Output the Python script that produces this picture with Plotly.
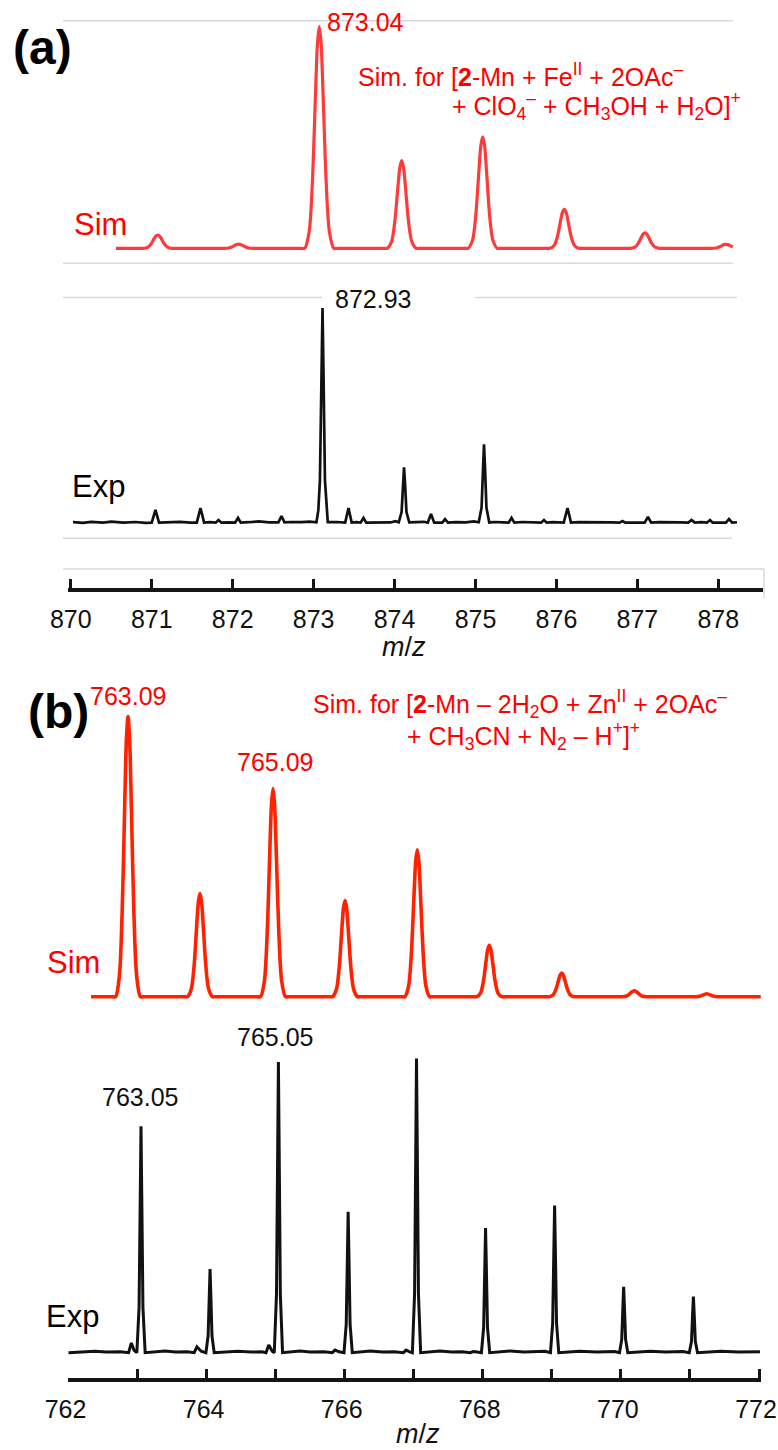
import plotly.graph_objects as go

W, H = 778, 1450
FONT = "Liberation Sans, Arial, Helvetica, sans-serif"

# ---------------- data ----------------
# (a) simulated spectrum: m/z and relative intensity (%)
sim_a_mz = [870.558,
    870.844, 870.894, 870.949, 870.989, 871.024, 871.051, 871.074, 871.097, 871.124, 871.159, 871.199, 871.254, 871.304,
    871.844, 871.894, 871.949, 871.989, 872.024, 872.051, 872.074, 872.097, 872.124, 872.159, 872.199, 872.254, 872.304,
    872.840, 872.890, 872.945, 872.985, 873.020, 873.047, 873.070, 873.093, 873.120, 873.155, 873.195, 873.250, 873.300,
    873.858, 873.908, 873.963, 874.003, 874.038, 874.065, 874.088, 874.111, 874.138, 874.173, 874.213, 874.268, 874.318,
    874.859, 874.909, 874.964, 875.004, 875.039, 875.066, 875.089, 875.112, 875.139, 875.174, 875.214, 875.269, 875.319,
    875.867, 875.917, 875.972, 876.012, 876.047, 876.074, 876.097, 876.120, 876.147, 876.182, 876.222, 876.277, 876.327,
    876.864, 876.914, 876.969, 877.009, 877.044, 877.071, 877.094, 877.117, 877.144, 877.179, 877.219, 877.274, 877.324,
    877.865, 877.915, 877.970, 878.010, 878.045, 878.072, 878.095, 878.118, 878.145, 878.178]
sim_a_int = [0,
    0, 0, 0.45, 1.8, 4.0, 5.5, 6.0, 5.5, 4.0, 1.8, 0.45, 0, 0,
    0, 0, 0.15, 0.6, 1.25, 1.75, 1.9, 1.75, 1.25, 0.6, 0.15, 0, 0,
    0, 0, 7.5, 30, 66, 92, 100, 92, 66, 30, 7.5, 0, 0,
    0, 0, 3.0, 11.9, 26.1, 36.3, 39.5, 36.3, 26.1, 11.9, 3.0, 0, 0,
    0, 0, 3.8, 15.1, 33.2, 46.3, 50.3, 46.3, 33.2, 15.1, 3.8, 0, 0,
    0, 0, 1.3, 5.3, 11.6, 16.2, 17.6, 16.2, 11.6, 5.3, 1.3, 0, 0,
    0, 0, 0.5, 2.1, 4.6, 6.4, 7.0, 6.4, 4.6, 2.1, 0.5, 0, 0,
    0, 0, 0.14, 0.54, 1.2, 1.65, 1.8, 1.65, 1.2, 0.6]

# (a) experimental spectrum
exp_a_mz = [870.027, 870.15, 870.25, 870.40, 870.50, 870.65, 870.80, 870.92,
    871.00, 871.046, 871.09, 871.20, 871.35, 871.48,
    871.557, 871.602, 871.647, 871.72,
    871.79, 871.825, 871.86, 871.95,
    872.03, 872.066, 872.10, 872.20, 872.32, 872.45,
    872.565, 872.603, 872.64, 872.72, 872.85, 872.95,
    873.035, 873.058, 873.078, 873.098, 873.110, 873.122, 873.140, 873.175,
    873.28, 873.39, 873.431, 873.47, 873.53,
    873.58, 873.616, 873.65, 873.75, 873.85, 873.95, 874.01,
    874.052, 874.087, 874.104, 874.117, 874.130, 874.147, 874.182,
    874.26, 874.36, 874.41, 874.45, 874.49, 874.59, 874.623, 874.66,
    874.76, 874.88, 874.98,
    875.040, 875.075, 875.092, 875.105, 875.118, 875.135, 875.170,
    875.24, 875.34, 875.41, 875.445, 875.48, 875.58, 875.70,
    875.81, 875.846, 875.88, 875.96, 876.05,
    876.09, 876.137, 876.18, 876.27, 876.40, 876.55, 876.68,
    876.78, 876.816, 876.85, 876.95, 877.04,
    877.09, 877.131, 877.17, 877.27, 877.40, 877.53,
    877.63, 877.669, 877.71, 877.79,
    877.86, 877.897, 877.93, 878.01,
    878.095, 878.132, 878.17, 878.231]
exp_a_int = [0.5, 0.2, 0.7, 0.3, 0.8, 0.3, 0.6, 0.2,
    0.3, 6.2, 0.3, 0.4, 0.7, 0.3,
    0.3, 7.1, 0.3, 0.5,
    0.3, 1.5, 0.3, 0.4,
    0.3, 2.5, 0.3, 0.5, 0.9, 0.4,
    0.4, 3.4, 0.4, 0.6, 0.5, 0.8,
    0.5, 6, 20, 70, 100, 70, 20, 0.5,
    0.6, 0.3, 7.1, 0.3, 0.5,
    0.3, 2.5, 0.3, 0.4, 0.6, 0.4, 1.0,
    0.5, 5.2, 18.2, 26.0, 18.2, 5.2, 0.4,
    0.5, 0.7, 0.3, 4.3, 0.3, 0.3, 1.9, 0.3,
    0.5, 0.4, 0.9,
    0.5, 7.3, 25.7, 36.7, 25.7, 7.3, 0.4,
    0.6, 0.4, 0.3, 2.5, 0.3, 0.6, 0.4,
    0.3, 1.5, 0.3, 0.5, 0.4,
    0.3, 7.1, 0.3, 0.5, 0.5, 0.7, 0.4,
    0.3, 1.0, 0.3, 0.4, 0.5,
    0.3, 3.0, 0.3, 0.5, 0.6, 0.4,
    0.3, 1.5, 0.3, 0.5,
    0.3, 1.5, 0.3, 0.4,
    0.3, 2.0, 0.3, 0.5]

# (b) simulated spectrum
sim_b_mz = [762.326,
    762.632, 762.682, 762.737, 762.777, 762.812, 762.839, 762.862, 762.885, 762.912, 762.947, 762.987, 763.042, 763.092,
    763.674, 763.724, 763.779, 763.819, 763.854, 763.881, 763.904, 763.927, 763.954, 763.989, 764.029, 764.084, 764.134,
    764.732, 764.782, 764.837, 764.877, 764.912, 764.939, 764.962, 764.985, 765.012, 765.047, 765.087, 765.142, 765.192,
    765.775, 765.825, 765.880, 765.920, 765.955, 765.982, 766.005, 766.028, 766.055, 766.090, 766.130, 766.185, 766.235,
    766.821, 766.871, 766.926, 766.966, 767.001, 767.028, 767.051, 767.074, 767.101, 767.136, 767.176, 767.231, 767.281,
    767.864, 767.914, 767.969, 768.009, 768.044, 768.071, 768.094, 768.117, 768.144, 768.179, 768.219, 768.274, 768.324,
    768.913, 768.963, 769.018, 769.058, 769.093, 769.120, 769.143, 769.166, 769.193, 769.228, 769.268, 769.323, 769.373,
    769.964, 770.014, 770.069, 770.109, 770.144, 770.171, 770.194, 770.217, 770.244, 770.279, 770.319, 770.374, 770.424,
    771.013, 771.063, 771.118, 771.158, 771.193, 771.220, 771.243, 771.266, 771.293, 771.328, 771.368, 771.423, 771.473,
    772.025]
sim_b_int = [0,
    0, 0, 7.5, 30, 66, 92, 100, 92, 66, 30, 7.5, 0, 0,
    0, 0, 2.8, 11.0, 24.3, 33.9, 36.8, 33.9, 24.3, 11.0, 2.8, 0, 0,
    0, 0, 5.6, 22.3, 49.0, 68.4, 74.3, 68.4, 49.0, 22.3, 5.6, 0, 0,
    0, 0, 2.6, 10.3, 22.6, 31.6, 34.3, 31.6, 22.6, 10.3, 2.6, 0, 0,
    0, 0, 3.9, 15.7, 34.6, 48.2, 52.4, 48.2, 34.6, 15.7, 3.9, 0, 0,
    0, 0, 1.4, 5.5, 12.1, 16.8, 18.3, 16.8, 12.1, 5.5, 1.4, 0, 0,
    0, 0, 0.6, 2.5, 5.5, 7.7, 8.4, 7.7, 5.5, 2.5, 0.6, 0, 0,
    0, 0, 0.16, 0.63, 1.4, 1.93, 2.1, 1.93, 1.4, 0.63, 0.16, 0, 0,
    0, 0, 0.08, 0.3, 0.66, 0.92, 1.0, 0.92, 0.66, 0.3, 0.08, 0, 0,
    0]

# (b) experimental spectrum
exp_b_mz = [762.00, 762.20, 762.38, 762.55, 762.75,
    762.87, 762.91, 762.95,
    762.99, 763.022, 763.039, 763.050, 763.061, 763.078, 763.11,
    763.25, 763.40, 763.55, 763.72,
    763.82, 763.86, 763.92,
    763.99, 764.022, 764.039, 764.050, 764.061, 764.078, 764.11,
    764.30, 764.45, 764.65, 764.80,
    764.86, 764.90, 764.95,
    764.98, 765.012, 765.029, 765.040, 765.051, 765.068, 765.10,
    765.20, 765.35, 765.50, 765.70,
    765.82, 765.86, 765.92,
    765.99, 766.022, 766.039, 766.050, 766.061, 766.078, 766.11,
    766.22, 766.37, 766.55, 766.72,
    766.85, 766.89, 766.94,
    766.98, 767.012, 767.029, 767.040, 767.051, 767.068, 767.10,
    767.22, 767.38, 767.55, 767.70,
    767.82, 767.86, 767.92,
    767.98, 768.012, 768.029, 768.040, 768.051, 768.068, 768.10,
    768.25, 768.39, 768.60, 768.90,
    768.98, 769.012, 769.029, 769.040, 769.051, 769.068, 769.10,
    769.25, 769.40, 769.65, 769.91,
    769.98, 770.012, 770.029, 770.040, 770.051, 770.068, 770.10,
    770.25, 770.42, 770.65, 770.90,
    770.99, 771.022, 771.039, 771.050, 771.061, 771.078, 771.11,
    771.30, 771.45, 771.70, 771.90, 772.014]
exp_b_int = [0, 0.2, 0.5, 0.2, 0.3,
    0, 3.3, 0.8,
    0, 15.4, 53.9, 77.0, 53.9, 15.4, 0,
    0.3, 0.6, 0.2, 0.3,
    0, 2.0, 0.5,
    0, 5.7, 19.9, 28.4, 19.9, 5.7, 0,
    0.3, 0.5, 0.2, 0.3,
    0, 2.6, 0.5,
    0, 19.8, 69.2, 98.8, 69.2, 19.8, 0,
    0.3, 0.6, 0.2, 0.3,
    0, 0.9, 0.3,
    0, 9.6, 33.5, 47.9, 33.5, 9.6, 0,
    0.3, 0.6, 0.2, 0.3,
    0, 0.9, 0.3,
    0, 20, 70, 100, 70, 20, 0,
    0.3, 0.6, 0.2, 0.3,
    0, 0.4, 0.2,
    0, 8.5, 29.7, 42.4, 29.7, 8.5, 0,
    0.3, 0.6, 0.2, 0.5,
    0, 10, 35, 50, 35, 10, 0,
    0.3, 0.5, 0.2, 0.4,
    0, 4.5, 15.7, 22.4, 15.7, 4.5, 0,
    0.3, 0.5, 0.2, 0.4,
    0, 3.8, 13.4, 19.1, 13.4, 3.8, 0,
    0.3, 0.5, 0.2, 0.4, 0.3]

ticks_a = [870, 871, 872, 873, 874, 875, 876, 877, 878]
ticks_b_major = [762, 764, 766, 768, 770, 772]
ticks_b_minor = [763, 765, 767, 769, 771]

# ---------------- layout helpers (pixel geometry) ----------------
def px(x):
    return x / W

def py(y):
    return 1 - y / H

AXC = "#151515"

def xaxis_cfg(val0, px0, ppu, left, right, line_y, tickvals, minor_vals=None, shift=0):
    cfg = dict(
        domain=[px(left), px(right)],
        range=[val0 + (left - px0) / ppu, val0 + (right - px0) / ppu],
        anchor="free", position=py(line_y),
        showline=True, linecolor=AXC, linewidth=4,
        ticks="inside", ticklen=9, tickwidth=3, tickcolor=AXC,
        tickmode="array", tickvals=tickvals, ticktext=[str(v) for v in tickvals],
        tickfont=dict(family=FONT, size=25, color="#111"),
        ticklabelstandoff=6, ticklabeloverflow="allow", ticklabelshift=shift,
        showgrid=False, zeroline=False, fixedrange=True, automargin=False,
    )
    if minor_vals:
        cfg["minor"] = dict(tickmode="array", tickvals=minor_vals, ticks="inside",
                            ticklen=9, tickwidth=3, tickcolor=AXC, showgrid=False)
    return cfg

def yaxis_cfg(dom_top, dom_bot, base_px, top_px, xref):
    k = (base_px - top_px) / 100.0
    return dict(
        domain=[py(dom_bot), py(dom_top)],
        range=[-(dom_bot - base_px) / k, (base_px - dom_top) / k],
        visible=False, anchor=xref, fixedrange=True, automargin=False,
        showgrid=False, zeroline=False,
    )

fig = go.Figure()
fig.add_trace(go.Scatter(x=sim_a_mz, y=sim_a_int, mode="lines", xaxis="x", yaxis="y",
                         line=dict(color="#ff3a3a", width=3.2, shape="spline", smoothing=0.8),
                         hoverinfo="skip"))
fig.add_trace(go.Scatter(x=exp_a_mz, y=exp_a_int, mode="lines", xaxis="x", yaxis="y2",
                         line=dict(color="#111111", width=2.7), hoverinfo="skip"))
fig.add_trace(go.Scatter(x=sim_b_mz, y=sim_b_int, mode="lines", xaxis="x2", yaxis="y3",
                         line=dict(color="#ff2200", width=3.6, shape="spline", smoothing=0.8),
                         hoverinfo="skip"))
fig.add_trace(go.Scatter(x=exp_b_mz, y=exp_b_int, mode="lines", xaxis="x2", yaxis="y4",
                         line=dict(color="#111111", width=3.0), hoverinfo="skip"))

RED = "#ff0000"
BLK = "#111111"

def ann(text, x, y, size, color, xanchor="left"):
    return dict(text=text, x=px(x), y=py(y), xref="paper", yref="paper",
                xanchor=xanchor, yanchor="middle", showarrow=False,
                font=dict(family=FONT, size=size, color=color))

annotations = [
    ann("<b>(a)</b>", 42.5, 47, 48, "#000", xanchor="center"),
    ann("<b>(b)</b>", 58.5, 711, 48, "#000", xanchor="center"),
    ann("Sim", 72, 225, 31, RED),
    ann("Exp", 70, 487, 31, "#000"),
    ann("Sim", 45, 963, 31, RED),
    ann("Exp", 44, 1316, 31, "#000"),
    ann("873.04", 325, 22.5, 25, RED),
    ann("872.93", 333, 299, 25, BLK),
    ann("763.09", 88, 696, 25, RED),
    ann("765.09", 235, 761.5, 25, RED),
    ann("763.05", 100, 1097, 25, BLK),
    ann("765.05", 235, 1037, 25, BLK),
    ann("Sim. for [<b>2</b>-Mn + Fe<sup>II</sup> + 2OAc<sup>–</sup>", 356, 75, 25, RED),
    ann("+ ClO<sub>4</sub><sup>–</sup> + CH<sub>3</sub>OH + H<sub>2</sub>O]<sup>+</sup>", 450, 106, 25, RED),
    ann("Sim. for [<b>2</b>-Mn – 2H<sub>2</sub>O + Zn<sup>II</sup> + 2OAc<sup>–</sup>", 311, 704, 25, RED),
    ann("+ CH<sub>3</sub>CN + N<sub>2</sub> – H<sup>+</sup>]<sup>+</sup>", 405, 736, 25, RED),
    ann("<i>m</i>/<i>z</i>", 404, 647, 27, BLK, xanchor="center"),
    ann("<i>m</i>/<i>z</i>", 417.5, 1434, 27, BLK, xanchor="center"),
]

GRAY = "#dadada"
gray_lines = [
    (63, 20.7, 733, 20.7), (63, 263.3, 733, 263.3),
    (63, 297.5, 322, 297.5), (475, 297.5, 737, 297.5),
    (63, 538.3, 732, 538.3), (63, 569, 764, 569), (764, 569, 764, 598),
]
shapes = [dict(type="line", xref="paper", yref="paper", x0=px(a), y0=py(b), x1=px(c), y1=py(d),
               line=dict(color=GRAY, width=1.5), layer="below") for a, b, c, d in gray_lines]

fig.update_layout(
    template="none",
    width=W, height=H, autosize=False,
    margin=dict(l=0, r=0, t=0, b=0, pad=0, autoexpand=False),
    paper_bgcolor="white", plot_bgcolor="rgba(0,0,0,0)",
    showlegend=False,
    font=dict(family=FONT),
    xaxis=xaxis_cfg(870, 70.8, 80.94, 68.3, 763, 590, ticks_a),
    xaxis2=xaxis_cfg(762, 68.5, 69.05, 67.5, 761, 1380, ticks_b_major, ticks_b_minor, shift=-3),
    yaxis=yaxis_cfg(0, 282, 248.3, 26.5, "x"),
    yaxis2=yaxis_cfg(283, 560, 523.3, 308.0, "x"),
    yaxis3=yaxis_cfg(670, 1015, 996.7, 716.5, "x2"),
    yaxis4=yaxis_cfg(1016, 1372, 1352.7, 1058.5, "x2"),
    annotations=annotations,
    shapes=shapes,
)

fig.write_html("out.html", config={"displayModeBar": False})
